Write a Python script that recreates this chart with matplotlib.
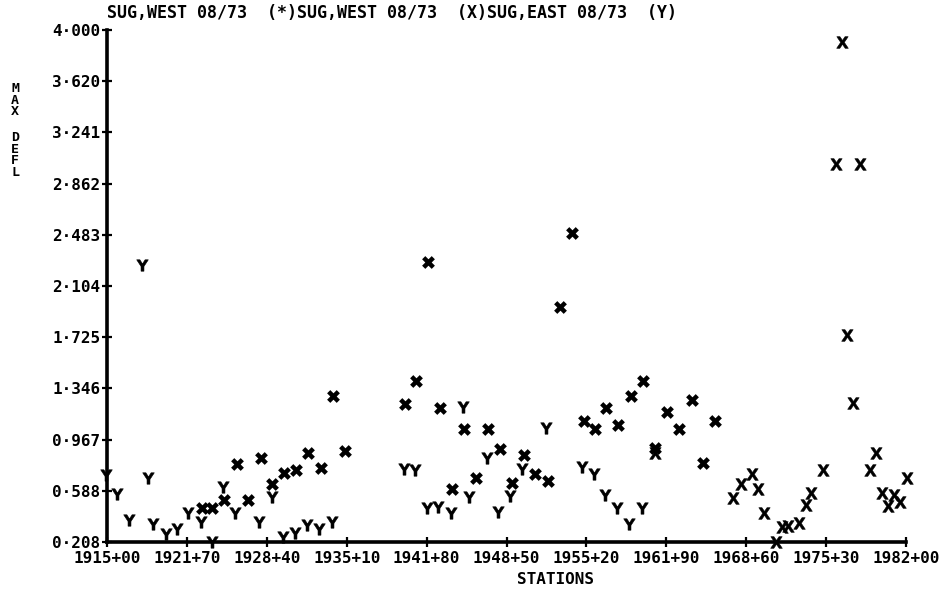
import numpy as np
import matplotlib
matplotlib.use('Agg')
import matplotlib.pyplot as plt

# Station positions are in hundreds of feet (1915+00 -> 1915.00)
star_st = [1922.97, 1923.81, 1924.81, 1925.90, 1926.82, 1927.91, 1928.84, 1929.84,
           1930.85, 1931.86, 1932.95, 1933.95, 1934.96, 1939.99, 1940.91, 1941.92,
           1942.92, 1943.93, 1944.94, 1945.94, 1946.95, 1947.96, 1948.96, 1949.97,
           1950.89, 1951.98, 1952.99, 1953.99, 1955.00, 1955.92, 1956.84, 1957.85,
           1958.94, 1959.95, 1960.95, 1961.96, 1962.97, 1964.06, 1964.98, 1965.99]
star_defl = [0.460, 0.460, 0.519, 0.786, 0.519, 0.830, 0.638, 0.719,
             0.741, 0.867, 0.756, 1.289, 0.882, 1.230, 1.401, 2.282,
             1.201, 0.601, 1.045, 0.682, 1.045, 0.897, 0.645, 0.852,
             0.712, 0.660, 1.949, 2.497, 1.104, 1.045, 1.201, 1.075,
             1.289, 1.401, 0.904, 1.171, 1.045, 1.260, 0.793, 1.104]

x_st = [1960.95, 1967.50, 1968.17, 1969.09, 1969.59, 1970.09, 1971.10, 1971.60,
        1972.11, 1973.03, 1973.62, 1974.04, 1975.04, 1976.13, 1976.64, 1977.06,
        1977.56, 1978.14, 1978.98, 1979.49, 1979.99, 1980.49, 1981.00, 1981.50,
        1982.09]
x_defl = [0.867, 0.534, 0.638, 0.712, 0.601, 0.423, 0.208, 0.319,
          0.326, 0.349, 0.482, 0.571, 0.741, 3.008, 3.912, 1.741,
          1.238, 3.008, 0.741, 0.867, 0.571, 0.475, 0.556, 0.504,
          0.682]

y_st = [1914.92, 1915.84, 1916.84, 1917.93, 1918.44, 1918.86, 1919.95, 1920.87,
        1921.79, 1922.88, 1923.81, 1924.73, 1925.73, 1927.75, 1928.84, 1929.76,
        1930.77, 1931.77, 1932.78, 1933.87, 1939.91, 1940.83, 1941.83, 1942.76,
        1943.85, 1944.85, 1945.36, 1946.87, 1947.79, 1948.80, 1949.80, 1951.81,
        1954.83, 1955.84, 1956.76, 1957.77, 1958.77, 1959.86]
y_defl = [0.704, 0.564, 0.371, 2.260, 0.682, 0.341, 0.267, 0.304,
          0.423, 0.356, 0.208, 0.615, 0.423, 0.356, 0.541, 0.245,
          0.275, 0.334, 0.304, 0.356, 0.749, 0.741, 0.460, 0.467,
          0.423, 1.208, 0.541, 0.830, 0.430, 0.549, 0.749, 1.052,
          0.764, 0.712, 0.556, 0.460, 0.341, 0.460]

x_ticks = [1915.0, 1921.7, 1928.4, 1935.1, 1941.8, 1948.5, 1955.2, 1961.9, 1968.6, 1975.3, 1982.0]
x_labels = ['1915+00', '1921+70', '1928+40', '1935+10', '1941+80', '1948+50',
            '1955+20', '1961+90', '1968+60', '1975+30', '1982+00']
y_ticks = [0.208, 0.588, 0.967, 1.346, 1.725, 2.104, 2.483, 2.862, 3.241, 3.620, 4.000]
y_labels = ['0·208', '0·588', '0·967', '1·346', '1·725', '2·104', '2·483',
            '2·862', '3·241', '3·620', '4·000']

title = 'SUG,WEST 08/73  (*)SUG,WEST 08/73  (X)SUG,EAST 08/73  (Y)'

plt.rcParams['font.family'] = ['DejaVu Sans Mono', 'DejaVu Sans']
plt.rcParams['font.weight'] = 'bold'
plt.rcParams['mathtext.fontset'] = 'dejavusans'

fig = plt.figure(figsize=(9.41, 5.93), dpi=100)
ax = fig.add_axes([107/941, 51/593, 799/941, 512/593])

ax.scatter(star_st, star_defl, marker='X', s=85, color='black', linewidths=0, clip_on=False)
ax.scatter(x_st, x_defl, marker=r'$\mathbf{X}$', s=70, color='black', linewidths=0.4, clip_on=False)
ax.scatter(y_st, y_defl, marker=r'$\mathbf{Y}$', s=70, color='black', linewidths=0.4, clip_on=False)

ax.set_xlim(1915.0, 1982.0)
ax.set_ylim(0.208, 4.0)
ax.set_xticks(x_ticks)
ax.set_xticklabels(x_labels)
ax.set_yticks(y_ticks)
ax.set_yticklabels(y_labels)
ax.tick_params(direction='inout', length=7.5, width=1.6, labelsize=11.5, pad=1, colors='black')
ax.tick_params(axis='x', pad=3)

for side in ['top', 'right']:
    ax.spines[side].set_visible(False)
for side in ['left', 'bottom']:
    ax.spines[side].set_linewidth(2.6)

fig.text(555/941, 1 - 580/593, 'STATIONS', fontsize=11.5, fontweight='bold', ha='center', va='center')
fig.text(107/941, 1 - 13/593, title, fontsize=12, fontweight='bold', va='center', ha='left')
fig.text(15/941, 1 - 100/593, 'M\nA\nX', fontsize=9.5, fontweight='bold', ha='center', va='center', linespacing=0.85)
fig.text(15/941, 1 - 155/593, 'D\nE\nF\nL', fontsize=9.5, fontweight='bold', ha='center', va='center', linespacing=0.85)

fig.savefig('out.png', dpi=100)
